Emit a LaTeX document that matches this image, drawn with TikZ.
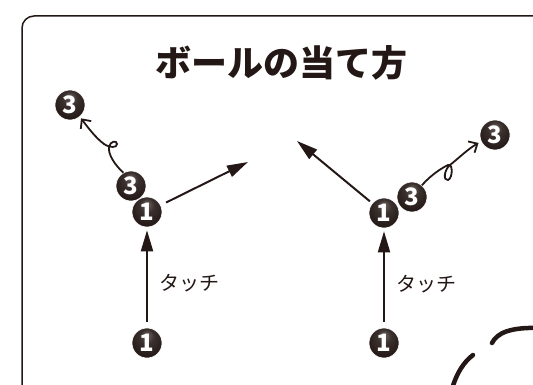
\documentclass[tikz,border=0pt]{standalone}
\usepackage{fontspec}
\usetikzlibrary{arrows.meta}

\newfontfamily\jpfont{Noto Sans CJK JP}
\definecolor{ink}{HTML}{231815}
\definecolor{ballhi}{HTML}{6E6462}
\definecolor{ballmid}{HTML}{3A302E}
\pgfdeclareradialshading{ballshine}{\pgfpoint{0bp}{14bp}}{color(0bp)=(ballhi); color(12bp)=(ballmid); color(30bp)=(ink); color(50bp)=(ink)}

\begin{document}
\begin{tikzpicture}[x=1pt, y=1pt,
    ball/.style={circle, minimum size=30pt, inner sep=0pt, shading=ballshine,
      draw=white, line width=0.6pt, text=white,
      font=\jpfont\bfseries\fontsize{24}{24}\selectfont},
    hit/.style={ink, line width=2pt, -{Triangle[length=21pt, width=12pt]}},
    spin/.style={ink, line width=1.8pt, -{Straight Barb[length=7pt, width=13pt]}},
    touchlabel/.style={anchor=west, inner sep=0pt, xshift=12pt, text=ink,
      font=\jpfont\fontsize{20}{20}\selectfont}]

  \useasboundingbox (0,0) rectangle (533,384);
  \clip (0,0) rectangle (533,384);

  % frame
  \draw[ink, line width=1.5pt, rounded corners=12pt] (22,368) rectangle (600,-40);

  \node[text=ink, font=\jpfont\bfseries\fontsize{36}{36}\selectfont] (title) at (281,321) {ボールの当て方};

  % left: spin off to the upper left
  \node[ball] (startl) at (147,41) {1};
  \node[ball] (spinl) at (131,198) {3};
  \node[ball] (touchl) at (147,172) {1};
  \node[ball] (flyl) at (70,279) {3};
  \coordinate (aiml) at (248,222);

  \draw[hit, shorten <=6pt, shorten >=3pt] (startl) -- (touchl);
  \path (startl) -- (touchl) node[touchlabel, pos=0.44] {タッチ};
  \draw[hit, shorten <=6pt] (touchl) -- (aiml);
  \draw[spin, shorten >=2pt] (spinl.120) .. controls (114,220) and (108,230) .. (109,237)
    .. controls (110,243) and (117,244) .. (117,240)
    .. controls (117,236) and (110,236) .. (104,240)
    .. controls (96,246) and (89,255) .. (flyl.-50);

  % right: spin off to the upper right
  \node[ball] (startr) at (384,41) {1};
  \node[ball] (touchr) at (384,171) {1};
  \node[ball] (spinr) at (412,187) {3};
  \node[ball] (flyr) at (495,249) {3};
  \coordinate (aimr) at (297,243);

  \draw[hit, shorten <=6pt, shorten >=3pt] (startr) -- (touchr);
  \path (startr) -- (touchr) node[touchlabel, pos=0.44] {タッチ};
  \draw[hit, shorten <=3pt] (touchr) -- (aimr);
  \draw[spin, shorten >=3pt] (spinr.50) .. controls (432,210) and (442,216) .. (448,219)
    .. controls (453,221) and (453,206) .. (448,204)
    .. controls (443,203) and (444,214) .. (450,219)
    .. controls (460,227) and (468,235) .. (flyr.205);

  % corner decoration
  \draw[ink, line width=4.5pt, line cap=round] (492,41) .. controls (497,51) and (510,57) .. (540,56);
  \draw[ink, line width=4.5pt, line cap=round] (473,29) .. controls (464,22) and (457,12) .. (452,-5);
\end{tikzpicture}
\end{document}
